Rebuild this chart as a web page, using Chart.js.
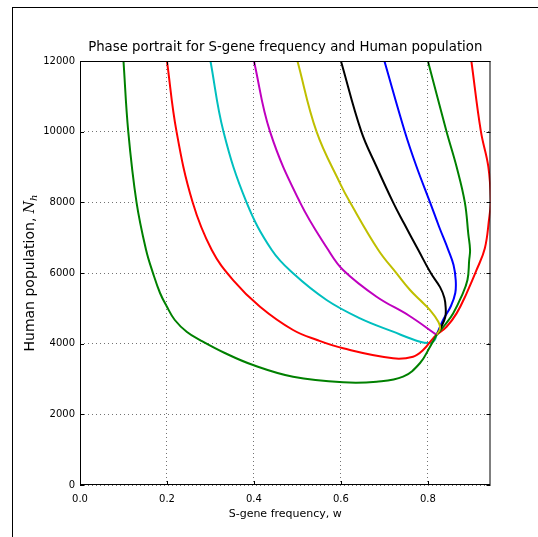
<!DOCTYPE html>
<html>
<head>
<meta charset="utf-8">
<script src="https://cdn.jsdelivr.net/npm/chart.js@4.4.1/dist/chart.umd.min.js"></script>
<style>
  html, body { margin: 0; padding: 0; background: #fff; overflow: hidden; }
  #marco {
    position: absolute; left: 12px; top: 7px; width: 600px; height: 600px;
    border-left: 1px solid #000; border-top: 1px solid #000;
  }
  #caja { position: absolute; left: 0; top: 0; width: 538px; height: 537px; }
</style>
</head>
<body>
<div id="marco"></div>
<div id="caja"><canvas id="graficoFase"></canvas></div>
<script>
// Trayectorias (w, N_h) que parten de N_h = 12000 para w0 = 0.1 ... 0.9
const w_01 = [0.100, 0.111, 0.130, 0.152, 0.168, 0.184, 0.199, 0.218, 0.246, 0.276, 0.333, 0.398, 0.490, 0.605, 0.682, 0.743, 0.782, 0.805, 0.820];
const N_01 = [12000, 10000, 8000, 6650, 5990, 5434, 5066, 4670, 4330, 4103, 3736, 3396, 3065, 2906, 2923, 3065, 3453, 3914, 4250];

const w_02 = [0.200, 0.222, 0.259, 0.303, 0.352, 0.414, 0.490, 0.547, 0.605, 0.720, 0.766, 0.789, 0.812, 0.820];
const N_02 = [12000, 10000, 8000, 6650, 5800, 5046, 4387, 4095, 3868, 3585, 3632, 3821, 4152, 4250];

const w_03 = [0.300, 0.330, 0.383, 0.441, 0.490, 0.567, 0.644, 0.720, 0.782, 0.805, 0.815, 0.820];
const N_03 = [12000, 10000, 8000, 6650, 5990, 5235, 4717, 4339, 4055, 4020, 4090, 4250];

const w_04 = [0.400, 0.437, 0.506, 0.571, 0.605, 0.682, 0.757, 0.820];
const N_04 = [12000, 10000, 8000, 6650, 6085, 5329, 4790, 4250];

const w_05 = [0.500, 0.544, 0.598, 0.621, 0.686, 0.728, 0.759, 0.782, 0.805, 0.824, 0.828, 0.820];
const N_05 = [12000, 10000, 8538, 8000, 6650, 5990, 5519, 5235, 4952, 4622, 4433, 4250];

const w_06 = [0.600, 0.647, 0.682, 0.720, 0.745, 0.778, 0.807, 0.828, 0.838, 0.841, 0.840, 0.831, 0.820];
const N_06 = [12000, 10000, 9008, 8000, 7406, 6650, 5990, 5600, 5290, 5010, 4755, 4480, 4250];

const w_07 = [0.700, 0.747, 0.774, 0.805, 0.826, 0.847, 0.859, 0.864, 0.863, 0.853, 0.835, 0.820];
const N_07 = [12000, 10000, 9008, 8000, 7302, 6650, 6226, 5802, 5434, 5066, 4670, 4250];

const w_08 = [0.800, 0.843, 0.866, 0.885, 0.893, 0.897, 0.895, 0.891, 0.877, 0.858, 0.839, 0.820];
const N_08 = [12000, 10000, 9008, 8000, 7100, 6650, 6367, 5801, 5329, 4857, 4528, 4250];

const w_09 = [0.900, 0.922, 0.939, 0.945, 0.941, 0.931, 0.912, 0.889, 0.866, 0.843, 0.820];
const N_09 = [12000, 10000, 9008, 8000, 7550, 6700, 6085, 5425, 4857, 4480, 4250];

const colores = ['#008000', '#ff0000', '#00bfbf', '#bf00bf', '#bfbf00', '#000000', '#0000ff', '#008000', '#ff0000'];

const ticksX = [0.0, 0.2, 0.4, 0.6, 0.8];
const ticksY = [0, 2000, 4000, 6000, 8000, 10000, 12000];

const titulo = 'Phase portrait for S-gene frequency and Human population';

const trayectorias = [
  [w_01, N_01], [w_02, N_02], [w_03, N_03], [w_04, N_04], [w_05, N_05],
  [w_06, N_06], [w_07, N_07], [w_08, N_08], [w_09, N_09]
];

const datasets = trayectorias.map(([ws, ns], i) => ({
  data: ws.map((w, k) => ({ x: w, y: ns[k] })),
  borderColor: colores[i],
  borderWidth: 2,
  pointRadius: 0,
  showLine: true,
  fill: false,
  tension: 0.4
}));

const fuente = 'DejaVu Sans';

// título, marco del eje, marcas hacia dentro y etiqueta del eje y con N_h
const marcoEjes = {
  id: 'marcoEjes',
  afterDraw(chart) {
    const { ctx, chartArea: a, scales } = chart;
    ctx.save();
    ctx.strokeStyle = '#000';
    ctx.lineWidth = 1;
    ctx.strokeRect(a.left + 0.5, a.top + 0.5, a.right - a.left - 1, a.bottom - a.top - 1);
    ctx.beginPath();
    ticksX.forEach(v => {
      const x = Math.round(scales.x.getPixelForValue(v)) + 0.5;
      ctx.moveTo(x, a.bottom); ctx.lineTo(x, a.bottom - 4);
      ctx.moveTo(x, a.top); ctx.lineTo(x, a.top + 4);
    });
    ticksY.forEach(v => {
      const y = Math.round(scales.y.getPixelForValue(v)) + 0.5;
      ctx.moveTo(a.left, y); ctx.lineTo(a.left + 4, y);
      ctx.moveTo(a.right, y); ctx.lineTo(a.right - 4, y);
    });
    ctx.stroke();

    ctx.fillStyle = '#000';
    ctx.textAlign = 'center';
    ctx.textBaseline = 'middle';
    ctx.font = '13.3px ' + fuente;
    ctx.fillText(titulo, (a.left + a.right) / 2, a.top - 13);

    // etiqueta vertical
    const cy = (a.top + a.bottom) / 2;
    ctx.translate(30, cy);
    ctx.rotate(-Math.PI / 2);
    ctx.textAlign = 'left';
    const f1 = '14px ' + fuente;
    const f2 = 'italic 14px "DejaVu Serif"';
    const f3 = 'italic 10px "DejaVu Serif"';
    const t1 = 'Human population, ';
    ctx.font = f1; const a1 = ctx.measureText(t1).width;
    ctx.font = f2; const a2 = ctx.measureText('N').width;
    ctx.font = f3; const a3 = ctx.measureText('h').width;
    const x0 = -(a1 + a2 + a3) / 2;
    ctx.font = f1; ctx.fillText(t1, x0, 0);
    ctx.font = f2; ctx.fillText('N', x0 + a1, 0);
    ctx.font = f3; ctx.fillText('h', x0 + a1 + a2, 4);
    ctx.restore();
  }
};

new Chart(document.getElementById('graficoFase'), {
  type: 'scatter',
  data: { datasets },
  options: {
    responsive: true,
    maintainAspectRatio: false,
    animation: false,
    layout: { padding: { left: 0, right: 47.5, top: 61, bottom: 0 } },
    plugins: {
      legend: { display: false },
      tooltip: { enabled: false },
      title: { display: false }
    },
    scales: {
      x: {
        type: 'linear',
        min: 0,
        max: 0.944,
        afterFit: s => { s.height = 52; },
        afterBuildTicks: s => { s.ticks = ticksX.map(v => ({ value: v })); },
        ticks: {
          color: '#000',
          font: { family: fuente, size: 10 },
          padding: 8,
          callback: v => v.toFixed(1)
        },
        grid: { color: 'rgba(0,0,0,0.55)', lineWidth: 1, drawTicks: false },
        border: { display: false, dash: [1, 3] },
        title: {
          display: true,
          text: 'S-gene frequency, w',
          color: '#000',
          font: { family: fuente, size: 11 },
          padding: { top: 0, bottom: 16 }
        }
      },
      y: {
        type: 'linear',
        min: 0,
        max: 12000,
        afterFit: s => { s.width = 80; },
        afterBuildTicks: s => { s.ticks = ticksY.map(v => ({ value: v })); },
        ticks: {
          color: '#000',
          font: { family: fuente, size: 10 },
          padding: 5,
          callback: v => String(v)
        },
        grid: { color: 'rgba(0,0,0,0.55)', lineWidth: 1, drawTicks: false },
        border: { display: false, dash: [1, 3] }
      }
    }
  },
  plugins: [marcoEjes]
});
</script>
</body>
</html>
